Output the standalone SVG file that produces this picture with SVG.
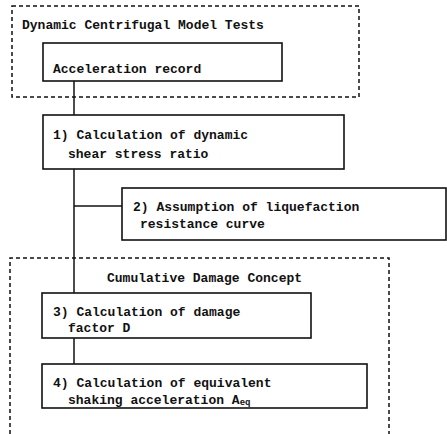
<svg xmlns="http://www.w3.org/2000/svg" width="447" height="434" viewBox="0 0 447 434">
<style>
.bg{fill:#fff}
.dash{fill:none;stroke:#111;stroke-width:1.5;stroke-dasharray:4 3}
.box{fill:#fff;stroke:#111;stroke-width:1.6}
.ln{fill:none;stroke:#111;stroke-width:1.5}
text{font-family:"Liberation Mono","DejaVu Sans Mono",monospace;font-size:13px;font-weight:bold;fill:#111}
</style>
<rect class="bg" x="0" y="0" width="447" height="434"/>
<g id="group-dynamic">
<rect class="dash" x="12" y="6" width="347" height="91"/>
<text x="22" y="29">Dynamic Centrifugal Model Tests</text>
</g>
<g id="group-cumulative">
<path class="dash" d="M10,434 V258 H389 V434"/>
<text x="107" y="282">Cumulative Damage Concept</text>
</g>
<g id="connectors">
<line class="ln" x1="74" y1="81" x2="74" y2="293"/>
<line class="ln" x1="74" y1="206" x2="122" y2="206"/>
<line class="ln" x1="74" y1="338" x2="74" y2="364"/>
</g>
<g id="n0">
<rect class="box" x="43" y="43" width="239" height="38"/>
<text x="53" y="73">Acceleration record</text>
</g>
<g id="n1">
<rect class="box" x="43" y="115" width="301" height="54"/>
<text x="53" y="139">1) Calculation of dynamic</text>
<text x="68" y="158">shear stress ratio</text>
</g>
<g id="n2">
<rect class="box" x="122" y="188" width="324" height="52"/>
<text x="133" y="211">2) Assumption of liquefaction</text>
<text x="140" y="228">resistance curve</text>
</g>
<g id="n3">
<rect class="box" x="42" y="293" width="269" height="45"/>
<text x="53" y="316">3) Calculation of damage</text>
<text x="68" y="332">factor D</text>
</g>
<g id="n4">
<rect class="box" x="42" y="364" width="325" height="44"/>
<text x="53" y="387">4) Calculation of equivalent</text>
<text x="68" y="404">shaking acceleration A<tspan font-size="9" dy="1">eq</tspan></text>
</g>
</svg>
